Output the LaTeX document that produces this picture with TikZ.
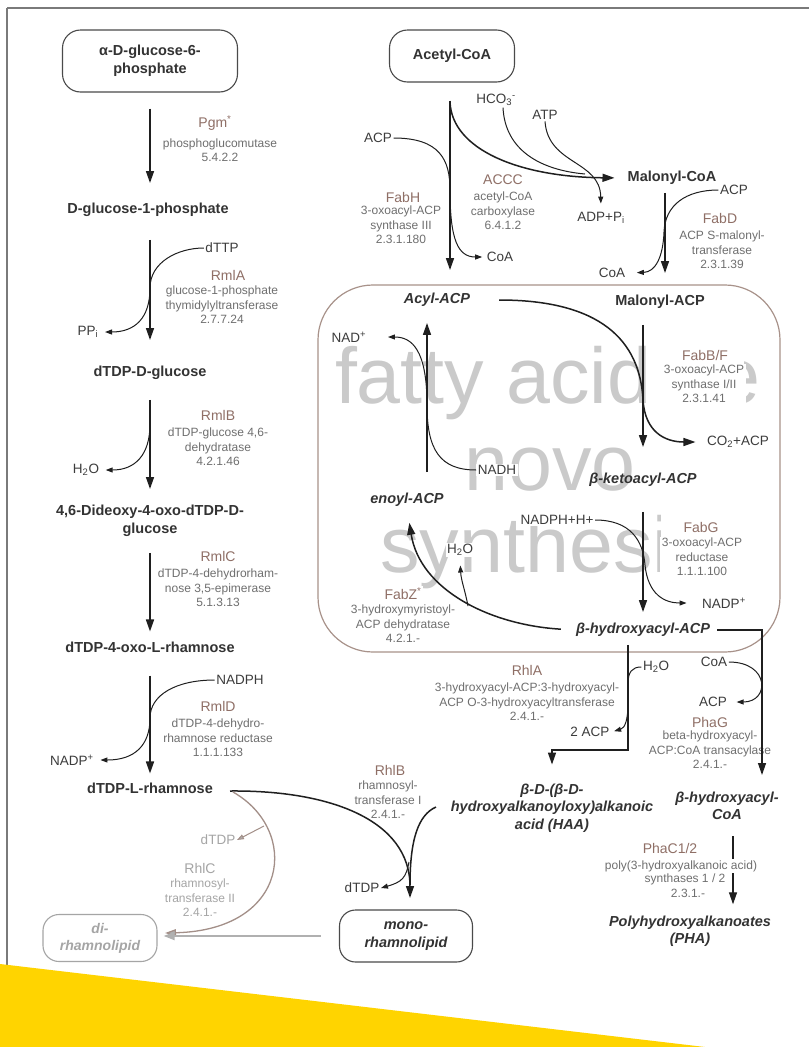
\documentclass[tikz,border=0pt]{standalone}
\usepackage{fontspec}
\setmainfont{Liberation Sans}
\usetikzlibrary{arrows.meta}
\definecolor{cmpc}{HTML}{333333}
\definecolor{enzc}{HTML}{8F6F66}
\definecolor{descc}{HTML}{6F6F6F}
\definecolor{subc}{HTML}{3C3C3C}
\definecolor{arrc}{HTML}{1F1F1F}
\definecolor{boxc}{HTML}{A8928A}
\definecolor{boxd}{HTML}{4A4A4A}
\definecolor{wmc}{HTML}{CACACA}
\definecolor{rhlcc}{HTML}{A38F88}
\definecolor{rhlct}{HTML}{A5A5A5}
\definecolor{grayarr}{HTML}{B0B0B0}
\definecolor{framec}{HTML}{7A7A7A}
\definecolor{yel}{HTML}{FFD400}
\begin{document}
\begin{tikzpicture}[x=1pt,y=-1pt,
  cmp/.style={font=\fontsize{14.5}{18}\selectfont\bfseries, text=cmpc, align=center, inner sep=1pt},
  cmpi/.style={cmp, font=\fontsize{14.5}{17.5}\selectfont\bfseries\itshape},
  rbox/.style={cmp, draw=boxd, line width=1.1pt, rounded corners=18pt},
  enz/.style={font=\fontsize{14}{16}\selectfont, text=enzc, inner sep=1.5pt, fill=white},
  desc/.style={font=\fontsize{12}{14.5}\selectfont, text=descc, align=center, inner sep=1.5pt, fill=white},
  sub/.style={font=\fontsize{13.5}{16}\selectfont, text=subc, inner sep=1.5pt, fill=white},
  wm/.style={font=\fontsize{79}{82}\selectfont, text=wmc, inner sep=0pt},
  main/.style={draw=arrc, line width=1.5pt, -{Triangle[length=12pt,width=8pt]}},
  mainline/.style={draw=arrc, line width=1.5pt},
  side/.style={draw=arrc, line width=1pt, -{Triangle[length=7pt,width=5pt]}},
  sideline/.style={draw=arrc, line width=1pt},
]
\useasboundingbox (0,0) rectangle (809,1047);
\fill[white] (0,0) rectangle (809,1047);

% frame
\draw[framec, line width=1.6pt] (7,8) -- (809,8);
\draw[framec, line width=1.2pt] (7,8) -- (7,970);

% watermark
\node[wm, anchor=base] (wm1) at (548,403) {fatty acid de};
\node[wm, anchor=base] (wm2) at (550,490) {novo};
\node[wm, anchor=base] (wm3) at (545,572) {synthesis};

% white label backgrounds over the watermark
\fill[white] (664,342) rectangle (744,409);
\fill[white] (661,514) rectangle (745,580);

% fatty acid synthesis box
\node[draw=boxc, line width=1.2pt, rounded corners=55pt, minimum width=462pt, minimum height=367pt, inner sep=0pt] (fasbox) at (549,468.5) {};

% ---------- compounds ----------
\node[rbox, minimum width=175pt, minimum height=62pt] (g6p) at (150,61) {α-D-glucose-6-\\phosphate};
\node[cmp] (g1p) at (148,210) {D-glucose-1-phosphate};
\node[cmp] (dglc) at (150,373) {dTDP-D-glucose};
\node[cmp] (dideoxy) at (150,521) {4,6-Dideoxy-4-oxo-dTDP-D-\\glucose};
\node[cmp] (oxorha) at (150,647) {dTDP-4-oxo-L-rhamnose};
\node[cmp] (drha) at (150,788) {dTDP-L-rhamnose};

\node[rbox, minimum width=125pt, minimum height=52pt] (acetyl) at (452,56) {Acetyl-CoA};
\node[cmp] (malcoa) at (672,178) {Malonyl-CoA};
\node[cmpi] (acyl) at (437,300) {Acyl-ACP};
\node[cmp] (malacp) at (660,302) {Malonyl-ACP};
\node[cmpi] (keto) at (643,480) {β-ketoacyl-ACP};
\node[cmpi] (enoyl) at (407,500) {enoyl-ACP};
\node[cmpi] (bhacp) at (643,630) {β-hydroxyacyl-ACP};
\node[cmpi] (haa) at (552,808) {β-D-(β-D-\\hydroxyalkanoyloxy)alkanoic\\acid (HAA)};
\node[cmpi] (bhcoa) at (727,806) {β-hydroxyacyl-\\CoA};
\node[cmpi] (pha) at (690,931) {Polyhydroxyalkanoates\\(PHA)};
\node[rbox, font=\fontsize{14.5}{18}\selectfont\bfseries\itshape, rounded corners=16pt, minimum width=133pt, minimum height=52pt] (mono) at (406,936) {mono-\\rhamnolipid};
\node[rbox, draw=rhlct, text=rhlct, font=\fontsize{14}{17}\selectfont\bfseries\itshape, rounded corners=16pt, minimum width=114pt, minimum height=47pt] (di) at (100,938) {di-\\rhamnolipid};

% ---------- side substrates ----------
\node[sub] (dttp) at (222,248) {dTTP};
\node[sub] (ppi) at (88,332) {PP\textsubscript{i}};
\node[sub] (h2oa) at (86,470) {H\textsubscript{2}O};
\node[sub] (nadph) at (240,680) {NADPH};
\node[sub] (nadpa) at (72,760) {NADP\textsuperscript{+}};
\node[sub] (acp1) at (378,138) {ACP};
\node[sub] (hco3) at (496,100) {HCO\textsubscript{3}\textsuperscript{-}};
\node[sub] (atp) at (545,115) {ATP};
\node[sub] (adp) at (601,218) {ADP+P\textsubscript{i}};
\node[sub] (coa1) at (500,257) {CoA};
\node[sub] (acp2) at (734,190) {ACP};
\node[sub] (coa2) at (612,273) {CoA};
\node[sub] (nadp1) at (349,337) {NAD\textsuperscript{+}};
\node[sub] (nadh) at (497,470) {NADH};
\node[sub] (co2) at (738,442) {CO\textsubscript{2}+ACP};
\node[sub] (nadphh) at (557,520) {NADPH+H+};
\node[sub] (nadp2) at (724,603) {NADP\textsuperscript{+}};
\node[sub] (h2ob) at (460,550) {H\textsubscript{2}O};
\node[sub] (h2oc) at (656,667) {H\textsubscript{2}O};
\node[sub] (coa3) at (714,662) {CoA};
\node[sub] (acp3) at (713,702) {ACP};
\node[sub] (acp2a) at (590,732) {2 ACP};
\node[sub] (dtdp1) at (362,888) {dTDP};
\node[sub, text=rhlct] (dtdp2) at (218,840) {dTDP};

% ---------- enzymes ----------
\node[enz] (pgm) at (215,123) {Pgm\textsuperscript{*}};
\node[desc] (pgmd) at (220,150) {phosphoglucomutase\\5.4.2.2};
\node[enz] (rmla) at (228,275) {RmlA};
\node[desc] (rmlad) at (222,305) {glucose-1-phosphate\\thymidylyltransferase\\2.7.7.24};
\node[enz] (rmlb) at (218,415) {RmlB};
\node[desc] (rmlbd) at (218,447) {dTDP-glucose 4,6-\\dehydratase\\4.2.1.46};
\node[enz] (rmlc) at (218,556) {RmlC};
\node[desc] (rmlcd) at (218,588) {dTDP-4-dehydrorham-\\nose 3,5-epimerase\\5.1.3.13};
\node[enz] (rmld) at (218,706) {RmlD};
\node[desc] (rmldd) at (218,738) {dTDP-4-dehydro-\\rhamnose reductase\\1.1.1.133};

\node[enz] (fabh) at (403,197) {FabH};
\node[desc] (fabhd) at (401,225) {3-oxoacyl-ACP\\synthase III\\2.3.1.180};
\node[enz] (accc) at (503,180) {ACCC};
\node[desc] (acccd) at (503,211) {acetyl-CoA\\carboxylase\\6.4.1.2};
\node[enz] (fabd) at (720,218) {FabD};
\node[desc] (fabdd) at (722,250) {ACP S-malonyl-\\transferase\\2.3.1.39};
\node[enz] (fabbf) at (705,355) {FabB/F};
\node[desc] (fabbfd) at (704,384) {3-oxoacyl-ACP\\synthase I/II\\2.3.1.41};
\node[enz] (fabg) at (701,527) {FabG};
\node[desc] (fabgd) at (702,557) {3-oxoacyl-ACP\\reductase\\1.1.1.100};
\node[enz] (fabz) at (403,594) {FabZ\textsuperscript{*}};
\node[desc] (fabzd) at (403,624) {3-hydroxymyristoyl-\\ACP dehydratase\\4.2.1.-};
\node[enz] (rhla) at (527,670) {RhlA};
\node[desc] (rhlad) at (527,702) {3-hydroxyacyl-ACP:3-hydroxyacyl-\\ACP O-3-hydroxyacyltransferase\\2.4.1.-};
\node[enz] (phag) at (710,722) {PhaG};
\node[desc] (phagd) at (710,750) {beta-hydroxyacyl-\\ACP:CoA transacylase\\2.4.1.-};
\node[enz] (rhlb) at (390,770) {RhlB};
\node[desc] (rhlbd) at (388,800) {rhamnosyl-\\transferase I\\2.4.1.-};
\node[enz, text=rhlct] (rhlc) at (200,868) {RhlC};
\node[desc, text=rhlct] (rhlcd) at (200,898) {rhamnosyl-\\transferase II\\2.4.1.-};

% ---------- main arrows, left column ----------
\draw[main, shorten <=16pt, shorten >=19pt] (g6p.south) -- (g6p.south |- g1p.north);
\draw[main, shorten <=22pt, shorten >=25pt] (g1p.south -| g6p.south) -- (g6p.south |- dglc.north);
\draw[main, shorten <=19pt, shorten >=15pt] (dglc.south) -- (dglc.south |- dideoxy.north);
\draw[main, shorten <=15pt, shorten >=9pt] (dideoxy.south) -- (dideoxy.south |- oxorha.north);
\draw[main, shorten <=22pt, shorten >=8pt] (oxorha.south) -- (oxorha.south |- drha.north);

% side reactions, left column
\draw[side, shorten >=5pt] (dttp.west) .. controls (178,248) and (150,262) .. (150,288) .. controls (150,318) and (135,332) .. (ppi.east);
\coordinate (rmlbb) at (150,424);
\draw[side, shorten >=5pt] (rmlbb) .. controls (150,455) and (135,470) .. (h2oa.east);
\draw[side, shorten >=5pt] (nadph.west) .. controls (176,680) and (150,695) .. (150,718) .. controls (150,745) and (135,760) .. (nadpa.east);

% ---------- top right ----------
\draw[main, shorten <=18pt, shorten >=22pt] ([xshift=-2pt]acetyl.south) -- ([xshift=-2pt]acetyl.south |- acyl.north);
\coordinate (accc0) at (450,102);
\draw[main, shorten >=12pt] (accc0) .. controls (452,150) and (520,177) .. (malcoa.west);
\coordinate (hcoj) at (585,174);
\draw[sideline] ([xshift=7pt]hco3.south) .. controls (505,150) and (540,170) .. (hcoj);
\draw[side, shorten >=7pt] (atp.south) .. controls (548,165) and (600,160) .. (adp.north);
\draw[side, shorten >=3pt] (acp1.east) .. controls (440,138) and (450,160) .. (450,190) .. controls (450,240) and (458,257) .. (coa1.west);

\draw[main, shorten <=7pt, shorten >=21pt] ([xshift=-7pt]malcoa.south) -- ([xshift=-7pt]malcoa.south |- malacp.north);
\draw[side, shorten >=10pt] (acp2.west) .. controls (686,190) and (665,205) .. (664,232) .. controls (663,258) and (655,272) .. (coa2.east);

% ---------- fatty acid cycle ----------
\draw[main, shorten <=15pt, shorten >=25pt] (keto.north |- malacp.south) -- (keto.north);
\draw[main, shorten <=28pt, shorten >=10pt] (acyl.east) .. controls (600,300) and (640,340) .. (643,400) .. controls (645,432) and (665,442) .. (co2.west);
\draw[main, shorten <=24pt, shorten >=10pt] (keto.south) -- (keto.south |- bhacp.north);
\draw[side, shorten >=14pt] (nadphh.east) .. controls (630,520) and (643,540) .. (645,565) .. controls (648,595) and (665,603) .. (nadp2.west);
\draw[main, shorten <=14pt, shorten >=15pt] (bhacp.west) .. controls (490,625) and (420,590) .. (enoyl.south);
\coordinate (fzb) at (468,606);
\draw[side, shorten >=8pt] (fzb) .. controls (465,590) and (461,580) .. (h2ob.south);
\draw[main, shorten <=20pt, shorten >=15pt] ([xshift=20pt]enoyl.north) -- ([xshift=20pt]enoyl.north |- acyl.south);
\draw[side, shorten >=20pt] (nadh.west) .. controls (440,470) and (427,450) .. (427,405) .. controls (427,350) and (412,337) .. (nadp1.east);

% ---------- below the box ----------
\coordinate (rh1) at (590,750);
\draw[main, shorten <=7pt, shorten >=18pt] ([xshift=-15pt]bhacp.south) |- (rh1) -| (haa.north);
\draw[sideline] (h2oc.west) .. controls (632,667) and (628,672) .. (628,684);
\coordinate (rh2) at (628,703);
\draw[side, shorten >=3pt] (rh2) .. controls (628,720) and (625,728) .. (acp2a.east);
\coordinate (pgend) at (762,775);
\draw[main, line width=1.3pt, shorten <=6pt] (bhacp.east) -| (pgend);
\draw[side, shorten >=8pt] (coa3.east) .. controls (770,662) and (770,702) .. (acp3.east);
\draw[main, line width=1.3pt, shorten <=15pt, shorten >=10pt] ([xshift=6pt]bhcoa.south) -- ([xshift=6pt]bhcoa.south |- pha.north);
\node[enz] (phac) at (670,848) {PhaC1/2};
\node[desc] (phacd1) at (681,866) {poly(3-hydroxyalkanoic acid)};
\node[desc, fill=none] (phacd2) at (685,879.5) {synthases 1 / 2};
\node[desc, fill=none] (phacd3) at (688,893) {2.3.1.-};

% ---------- rhamnolipids ----------
\coordinate (rb0) at (230,791);
\coordinate (rbt) at (410,898);
\draw[main] (rb0) .. controls (330,790) and (410,820) .. (rbt);
\coordinate (hb0) at (436,807);
\coordinate (hb1) at (410,885);
\draw[mainline] (hb0) .. controls (418,815) and (410,840) .. (hb1);
\coordinate (rbb) at (409,862);
\draw[side] (rbb) .. controls (406,878) and (402,882) .. (dtdp1.east);
\coordinate (rc0) at (233,792);
\coordinate (rct) at (165,933);
\draw[draw=rhlcc, line width=1.3pt, -{Triangle[length=11pt,width=7pt,fill=grayarr]}] (rc0) .. controls (300,830) and (290,930) .. (rct);
\coordinate (rcb) at (264,826);
\draw[draw=rhlcc, line width=1pt, -{Triangle[length=7pt,width=5pt,fill=grayarr]}] (rcb) -- (dtdp2.east);
\draw[draw=grayarr, line width=2pt, -{Triangle[length=11pt,width=8pt]}, shorten <=18pt, shorten >=6pt] (mono.west) -- (mono.west -| di.east);

% yellow band
\fill[yel] (0,964) -- (705,1047) -- (0,1047) -- cycle;
\end{tikzpicture}
\end{document}
